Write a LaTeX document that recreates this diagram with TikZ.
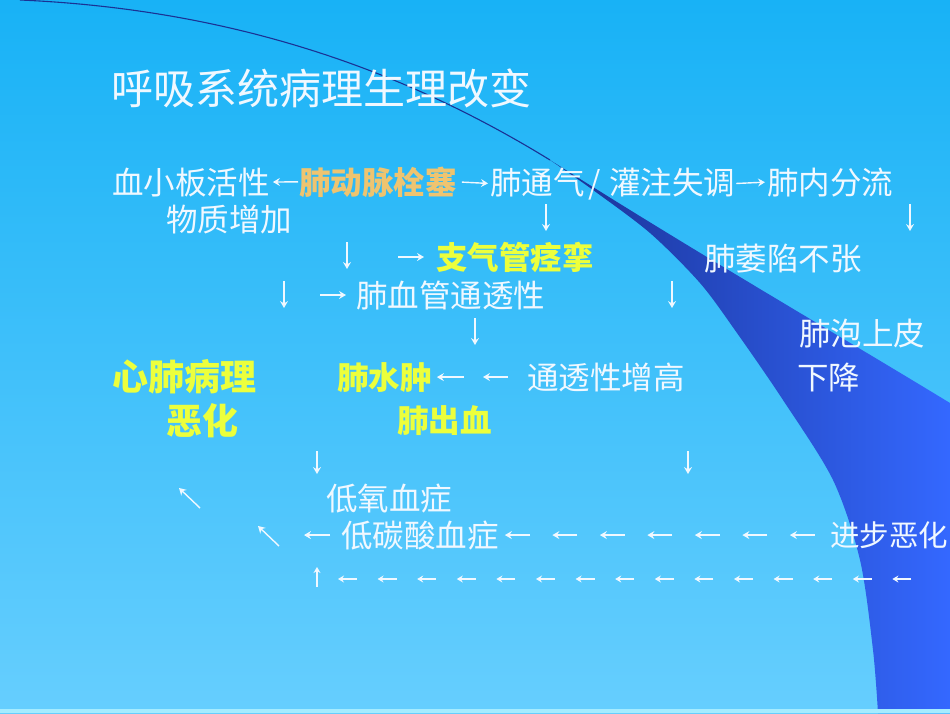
\documentclass[tikz,border=0pt]{standalone}
\usepackage{fontspec}
\newfontfamily\cjk{Noto Sans CJK SC}
\usetikzlibrary{arrows.meta,calc}

\definecolor{bgtop}{RGB}{24,178,246}
\definecolor{bgbot}{RGB}{102,206,254}
\definecolor{bgedge}{RGB}{165,236,255}
\definecolor{bandl}{RGB}{26,50,148}
\definecolor{bandr}{RGB}{52,104,255}
\definecolor{txtwhite}{RGB}{240,248,255}
\definecolor{txtorange}{RGB}{238,196,112}
\definecolor{txtyellow}{RGB}{236,255,60}

\tikzset{
  txt/.style={anchor=base west, inner sep=0pt, text=txtwhite,
    font=\cjk\fontsize{31.5}{31.5}\selectfont},
  ttl/.style={txt, font=\cjk\fontsize{42}{42}\selectfont},
  hot/.style={txt, text=txtyellow, font=\cjk\bfseries\fontsize{31.5}{31.5}\selectfont},
  hotbig/.style={txt, text=txtyellow, font=\cjk\bfseries\fontsize{36}{36}\selectfont},
  warm/.style={txt, text=txtorange, font=\cjk\bfseries\fontsize{31.5}{31.5}\selectfont},
  arr/.style={draw=txtwhite, line width=1.4pt, -{Stealth[length=7pt,width=8pt,inset=2.5pt]}},
  arrs/.style={arr, -{Stealth[length=6pt,width=7pt,inset=2pt]}}
}

\begin{document}
\begin{tikzpicture}[x=1pt,y=-1pt]
    \useasboundingbox (0,0) rectangle (950,713);
    \clip (0,0) rectangle (950,713);

    % Background and band
    \shade[top color=bgtop, bottom color=bgbot] (0,0) rectangle (950,713);
    \shade[left color=bandl, right color=bandr]
        (550,160) .. controls (700,255) and (830,330) .. (950,403)
        -- (950,713) -- (878,713)
        -- plot[smooth] coordinates {(878,713) (873,650) (860,560) (833,480) (783,400)
            (737,333) (700,283) (650,233) (593,190) (550,160)} -- cycle;
    \draw[bandl, line width=1.1pt] (20,0) .. controls (250,10) and (420,80) .. (550,160);
    \fill[bgedge] (0,709) rectangle (950,713);

    % Title
    \node[ttl] (title) at (111,104) {呼吸系统病理生理改变};

    % Draw nodes
    \node[txt] (xb) at (112,194) {血小板活性};
    \node[warm] (fdm) at (299,194) {肺动脉栓塞};
    \node[txt] (ftq) at (490,194) {肺通气\hspace{4pt}/\hspace{8pt}灌注失调};
    \node[txt] (fnfl) at (767,194) {肺内分流};
    \node[txt] (wzzj) at (166,231) {物质增加};
    \node[hot] (zqg) at (436,269) {支气管痉挛};
    \node[txt] (fwx) at (704,270) {肺萎陷不张};
    \node[txt] (fxg) at (356,307) {肺血管通透性};
    \node[txt] (fpsp) at (799,345) {肺泡上皮};
    \node[hotbig] (xfbl) at (112,390) {心肺病理};
    \node[hot] (fsz) at (337,389) {肺水肿};
    \node[txt] (ttx) at (527,389) {通透性增高};
    \node[txt] (xj) at (797,389) {下降};
    \node[hotbig] (eh) at (166,434) {恶化};
    \node[hot] (fcx) at (397,432) {肺出血};
    \node[txt] (dyx) at (326,510) {低氧血症};
    \node[txt] (dtsx) at (341,547) {低碳酸血症};
    \node[txt, font=\cjk\fontsize{29.5}{29.5}\selectfont] (jbeh) at (830,546) {进步恶化};

    % Draw directed edges
    \draw[arr, shorten <=1pt, shorten >=3pt] (fdm.west) -- (xb.east);
    \draw[arr, shorten <=5pt, shorten >=2pt] (fdm.east) -- (ftq.west);
    \draw[arr, shorten <=1pt, shorten >=2pt] (ftq.east) -- (fnfl.west);
    \draw[arr, shorten <=19pt] (ttx.west) -- ++(-44,0);
    \draw[arr, shorten >=5pt] ($(fsz.east)+(32,0)$) -- (fsz.east);
    \draw[arr, shorten <=11pt] (dtsx.west) -- ++(-37,0);
    \foreach \i in {0,...,6}
        \draw[arr] ($(dtsx.east)+(31+47.5*\i,0)$) -- ++(-25,0);

    % Free arrows
    \coordinate (dA) at (546,204);
    \coordinate (dB) at (910,204);
    \coordinate (dC) at (347,242);
    \coordinate (rC) at (398,257);
    \coordinate (dD) at (284,281);
    \coordinate (rD) at (320,295);
    \coordinate (dE) at (672,281);
    \coordinate (dF) at (475,318);
    \coordinate (dG) at (317,451);
    \coordinate (dH) at (688,451);
    \coordinate (uA) at (317,587);
    \draw[arr] (dA) -- ++(0,27);
    \draw[arr] (dB) -- ++(0,27);
    \draw[arr] (dC) -- ++(0,27);
    \draw[arr] (rC) -- ++(26,0);
    \draw[arr] (dD) -- ++(0,27);
    \draw[arr] (rD) -- ++(26,0);
    \draw[arr] (dE) -- ++(0,27);
    \draw[arr] (dF) -- ++(0,27);
    \draw[arr] (dG) -- ++(0,23);
    \draw[arr] (dH) -- ++(0,23);
    \draw[arrs] (uA) -- ++(0,-20);
    \draw[arr] (200,508) -- (179,488);
    \draw[arr] (279,546) -- (258,526);
    \foreach \i in {0,...,14}
        \draw[arrs] (357+39.6*\i,579) -- ++(-19,0);
\end{tikzpicture}
\end{document}
